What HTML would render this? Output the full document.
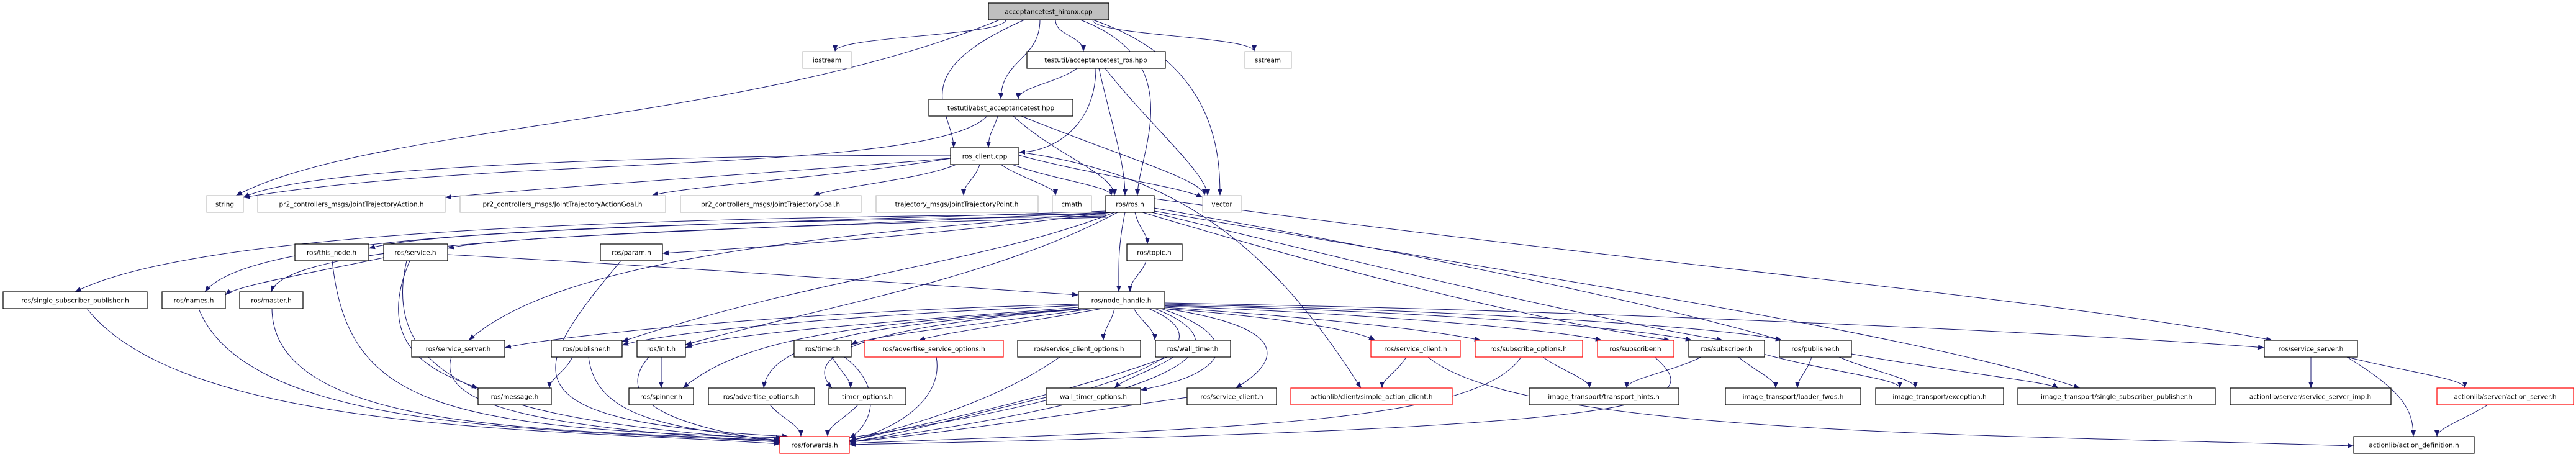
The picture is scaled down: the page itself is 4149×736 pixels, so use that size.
<!DOCTYPE html>
<html><head><meta charset="utf-8"><style>
html,body{margin:0;padding:0;background:#fff;width:4149px;height:736px;overflow:hidden}
svg{display:block}
text{font-family:"DejaVu Sans","Liberation Sans",sans-serif;font-size:10.5px;fill:#000;text-anchor:middle}
.n rect{fill:#fff;stroke:#000;stroke-width:1.2}
.g rect{fill:#fff;stroke:#bfbfbf;stroke-width:1.2}
.r rect{fill:#fff;stroke:#ff0000;stroke-width:1.2}
.e path{fill:none;stroke:#191970;stroke-width:1}
</style></head><body>
<svg width="4149" height="736" viewBox="0 0 4149 736" xmlns="http://www.w3.org/2000/svg">
<defs><marker id="a" markerWidth="10" markerHeight="8" refX="10" refY="4" orient="auto" markerUnits="userSpaceOnUse"><path d="M0,0 L10,4 L0,8 z" fill="#191970"/></marker></defs>
<g class="e">
<path d="M1620 32 C1620 58 1345 58 1345 83" marker-end="url(#a)"/>
<path d="M1700 32 C1700 58 1745 58 1745 83" marker-end="url(#a)"/>
<path d="M1760 32 C1760 58 2020 58 2020 83" marker-end="url(#a)"/>
<path d="M1675 32 C1675 96 1612 96 1612 160" marker-end="url(#a)"/>
<path d="M1650 32 C1450 120 1536 180 1536 238" marker-end="url(#a)"/>
<path d="M1610 32 C1200 200 600 200 380 315" marker-end="url(#a)"/>
<path d="M1740 32 C1920 100 1832 250 1832 315" marker-end="url(#a)"/>
<path d="M1760 32 C1960 100 1965 250 1965 315" marker-end="url(#a)"/>
<path d="M1735 110 C1700 135 1640 140 1640 160" marker-end="url(#a)"/>
<path d="M1765 110 C1765 200 1700 245 1641 245" marker-end="url(#a)"/>
<path d="M1770 110 C1790 200 1812 260 1812 315" marker-end="url(#a)"/>
<path d="M1780 110 C1850 200 1945 280 1945 315" marker-end="url(#a)"/>
<path d="M1607 187 C1600 210 1592 215 1592 238" marker-end="url(#a)"/>
<path d="M1590 187 C1500 280 800 250 392 318" marker-end="url(#a)"/>
<path d="M1632 187 C1700 250 1795 280 1795 315" marker-end="url(#a)"/>
<path d="M1645 187 C1800 250 1940 290 1940 315" marker-end="url(#a)"/>
<path d="M1531 250 C1100 250 500 265 392 318" marker-end="url(#a)"/>
<path d="M1531 255 C1300 275 900 300 717 318" marker-end="url(#a)"/>
<path d="M1531 255 C1350 285 1100 300 1050 315" marker-end="url(#a)"/>
<path d="M1540 265 C1480 290 1350 300 1310 315" marker-end="url(#a)"/>
<path d="M1578 265 C1570 290 1552 295 1552 315" marker-end="url(#a)"/>
<path d="M1612 265 C1650 290 1700 300 1700 315" marker-end="url(#a)"/>
<path d="M1630 265 C1700 290 1790 300 1790 315" marker-end="url(#a)"/>
<path d="M1641 250 C1750 280 1900 300 1937 318" marker-end="url(#a)"/>
<path d="M1641 245 C1900 280 2050 400 2192 625" marker-end="url(#a)"/>
<path d="M1781 340 C1200 360 700 370 594 400" marker-end="url(#a)"/>
<path d="M1781 342 C1200 370 800 380 721 400" marker-end="url(#a)"/>
<path d="M1790 342 C1500 380 1200 400 1067 408" marker-end="url(#a)"/>
<path d="M1828 342 C1835 370 1848 375 1848 393" marker-end="url(#a)"/>
<path d="M1812 342 C1800 400 1802 430 1802 470" marker-end="url(#a)"/>
<path d="M1781 345 C900 350 300 380 121 470" marker-end="url(#a)"/>
<path d="M1781 348 C900 360 400 380 330 470" marker-end="url(#a)"/>
<path d="M1781 350 C1000 370 460 390 437 470" marker-end="url(#a)"/>
<path d="M1790 342 C1300 380 900 420 755 548" marker-end="url(#a)"/>
<path d="M1795 342 C1600 420 1300 450 1002 550" marker-end="url(#a)"/>
<path d="M1800 342 C1600 450 1300 500 1104 555" marker-end="url(#a)"/>
<path d="M1840 342 C2200 450 2500 520 2690 548" marker-end="url(#a)"/>
<path d="M1855 342 C2300 450 2600 520 2775 548" marker-end="url(#a)"/>
<path d="M1859 335 C2400 430 2700 500 2870 548" marker-end="url(#a)"/>
<path d="M1859 320 C2600 420 3300 480 3660 548" marker-end="url(#a)"/>
<path d="M1859 340 C2500 450 3100 540 3350 625" marker-end="url(#a)"/>
<path d="M618 415 C500 440 380 460 363 475" marker-end="url(#a)"/>
<path d="M721 410 C1100 430 1500 460 1737 475" marker-end="url(#a)"/>
<path d="M660 420 C600 560 700 600 770 625" marker-end="url(#a)"/>
<path d="M655 420 C600 650 900 680 1256 710" marker-end="url(#a)"/>
<path d="M535 420 C560 650 700 690 1260 705" marker-end="url(#a)"/>
<path d="M1000 420 C850 600 800 680 1270 703" marker-end="url(#a)"/>
<path d="M1846 420 C1840 440 1820 450 1820 470" marker-end="url(#a)"/>
<path d="M140 497 C300 700 900 690 1256 715" marker-end="url(#a)"/>
<path d="M320 497 C400 700 900 690 1258 712" marker-end="url(#a)"/>
<path d="M438 497 C440 700 900 690 1258 710" marker-end="url(#a)"/>
<path d="M1737 490 C1300 500 900 540 813 560" marker-end="url(#a)"/>
<path d="M1737 492 C1300 510 1050 540 1002 556" marker-end="url(#a)"/>
<path d="M1737 495 C1400 520 1150 540 1104 560" marker-end="url(#a)"/>
<path d="M1745 497 C1400 520 1200 540 1100 625" marker-end="url(#a)"/>
<path d="M1750 497 C1450 520 1240 540 1230 625" marker-end="url(#a)"/>
<path d="M1755 497 C1450 520 1280 560 1340 625" marker-end="url(#a)"/>
<path d="M1760 497 C1600 520 1400 540 1371 555" marker-end="url(#a)"/>
<path d="M1775 497 C1650 520 1520 535 1480 548" marker-end="url(#a)"/>
<path d="M1795 497 C1790 520 1777 530 1777 548" marker-end="url(#a)"/>
<path d="M1826 497 C1840 520 1860 530 1860 548" marker-end="url(#a)"/>
<path d="M1870 497 C2000 540 1990 600 1837 628" marker-end="url(#a)"/>
<path d="M1876 497 C2100 530 2050 590 1990 625" marker-end="url(#a)"/>
<path d="M1860 497 C2020 560 1900 640 1368 712" marker-end="url(#a)"/>
<path d="M1850 497 C2000 560 1800 640 1368 705" marker-end="url(#a)"/>
<path d="M1876 497 C2050 510 2180 530 2215 548" marker-end="url(#a)"/>
<path d="M1876 495 C2100 510 2300 530 2385 548" marker-end="url(#a)"/>
<path d="M1876 493 C2200 505 2500 530 2580 548" marker-end="url(#a)"/>
<path d="M1876 492 C2300 500 2650 530 2725 548" marker-end="url(#a)"/>
<path d="M1876 490 C2400 500 2800 530 2870 548" marker-end="url(#a)"/>
<path d="M1876 488 C2600 500 3400 540 3647 560" marker-end="url(#a)"/>
<path d="M727 575 C700 660 900 690 1258 712" marker-end="url(#a)"/>
<path d="M922 575 C910 600 885 610 885 625" marker-end="url(#a)"/>
<path d="M948 575 C960 680 1100 690 1260 710" marker-end="url(#a)"/>
<path d="M1065 575 L1065 625" marker-end="url(#a)"/>
<path d="M1045 575 C980 650 1100 690 1262 712" marker-end="url(#a)"/>
<path d="M1340 575 C1355 600 1370 610 1370 625" marker-end="url(#a)"/>
<path d="M1360 575 C1420 620 1410 680 1368 706" marker-end="url(#a)"/>
<path d="M1508 575 C1520 640 1450 690 1368 710" marker-end="url(#a)"/>
<path d="M1707 575 C1600 650 1450 690 1368 710" marker-end="url(#a)"/>
<path d="M1890 575 C1850 600 1810 610 1795 625" marker-end="url(#a)"/>
<path d="M1880 575 C1700 640 1500 680 1368 710" marker-end="url(#a)"/>
<path d="M1240 652 C1260 675 1290 685 1290 703" marker-end="url(#a)"/>
<path d="M1382 652 C1360 675 1333 685 1333 703" marker-end="url(#a)"/>
<path d="M1685 640 C1550 670 1450 700 1368 712" marker-end="url(#a)"/>
<path d="M1912 640 C1700 670 1500 700 1368 712" marker-end="url(#a)"/>
<path d="M2265 575 C2250 600 2226 610 2226 625" marker-end="url(#a)"/>
<path d="M2300 575 C2450 700 3200 700 3791 718" marker-end="url(#a)"/>
<path d="M2485 575 C2520 600 2560 610 2560 625" marker-end="url(#a)"/>
<path d="M2450 575 C2380 680 2000 690 1368 714" marker-end="url(#a)"/>
<path d="M2665 575 C2750 650 2700 690 1368 716" marker-end="url(#a)"/>
<path d="M2740 575 C2690 600 2620 610 2620 625" marker-end="url(#a)"/>
<path d="M2800 575 C2830 600 2860 610 2860 625" marker-end="url(#a)"/>
<path d="M2840 570 C2950 600 3060 610 3060 625" marker-end="url(#a)"/>
<path d="M2918 575 C2910 600 2895 610 2895 625" marker-end="url(#a)"/>
<path d="M2962 575 C3020 600 3085 610 3085 625" marker-end="url(#a)"/>
<path d="M2982 570 C3150 600 3300 615 3315 625" marker-end="url(#a)"/>
<path d="M3722 575 L3722 625" marker-end="url(#a)"/>
<path d="M3780 575 C3880 600 3970 610 3970 625" marker-end="url(#a)"/>
<path d="M3780 575 C3870 630 3887 660 3887 703" marker-end="url(#a)"/>
<path d="M4007 652 C3970 675 3925 690 3925 703" marker-end="url(#a)"/>
</g>
<rect x="1592" y="5" width="194" height="27" fill="#bfbfbf" stroke="#000" stroke-width="1.2"/><text x="1689" y="22.5">acceptancetest_hironx.cpp</text>
<g class="g"><rect x="1293" y="83" width="78" height="27"/><text x="1332" y="100.5">iostream</text></g>
<g class="n"><rect x="1654" y="83" width="223" height="27"/><text x="1765" y="100.5">testutil/acceptancetest_ros.hpp</text></g>
<g class="g"><rect x="2005" y="83" width="75" height="27"/><text x="2042" y="100.5">sstream</text></g>
<g class="n"><rect x="1496" y="160" width="232" height="27"/><text x="1612" y="177.5">testutil/abst_acceptancetest.hpp</text></g>
<g class="n"><rect x="1531" y="238" width="110" height="27"/><text x="1586" y="255.5">ros_client.cpp</text></g>
<g class="g"><rect x="333" y="315" width="59" height="27"/><text x="362" y="332.5">string</text></g>
<g class="g"><rect x="415" y="315" width="302" height="27"/><text x="566" y="332.5">pr2_controllers_msgs/JointTrajectoryAction.h</text></g>
<g class="g"><rect x="741" y="315" width="331" height="27"/><text x="906" y="332.5">pr2_controllers_msgs/JointTrajectoryActionGoal.h</text></g>
<g class="g"><rect x="1096" y="315" width="291" height="27"/><text x="1241" y="332.5">pr2_controllers_msgs/JointTrajectoryGoal.h</text></g>
<g class="g"><rect x="1411" y="315" width="261" height="27"/><text x="1541" y="332.5">trajectory_msgs/JointTrajectoryPoint.h</text></g>
<g class="g"><rect x="1695" y="315" width="63" height="27"/><text x="1726" y="332.5">cmath</text></g>
<g class="n"><rect x="1781" y="315" width="78" height="27"/><text x="1820" y="332.5">ros/ros.h</text></g>
<g class="g"><rect x="1937" y="315" width="62" height="27"/><text x="1968" y="332.5">vector</text></g>
<g class="n"><rect x="475" y="393" width="119" height="27"/><text x="534" y="410.5">ros/this_node.h</text></g>
<g class="n"><rect x="618" y="393" width="103" height="27"/><text x="669" y="410.5">ros/service.h</text></g>
<g class="n"><rect x="967" y="393" width="100" height="27"/><text x="1017" y="410.5">ros/param.h</text></g>
<g class="n"><rect x="1815" y="393" width="89" height="27"/><text x="1859" y="410.5">ros/topic.h</text></g>
<g class="n"><rect x="5" y="470" width="232" height="27"/><text x="121" y="487.5">ros/single_subscriber_publisher.h</text></g>
<g class="n"><rect x="261" y="470" width="102" height="27"/><text x="312" y="487.5">ros/names.h</text></g>
<g class="n"><rect x="386" y="470" width="102" height="27"/><text x="437" y="487.5">ros/master.h</text></g>
<g class="n"><rect x="1737" y="470" width="139" height="27"/><text x="1806" y="487.5">ros/node_handle.h</text></g>
<g class="n"><rect x="663" y="548" width="150" height="27"/><text x="738" y="565.5">ros/service_server.h</text></g>
<g class="n"><rect x="888" y="548" width="114" height="27"/><text x="945" y="565.5">ros/publisher.h</text></g>
<g class="n"><rect x="1026" y="548" width="78" height="27"/><text x="1065" y="565.5">ros/init.h</text></g>
<g class="n"><rect x="1279" y="548" width="92" height="27"/><text x="1325" y="565.5">ros/timer.h</text></g>
<g class="r"><rect x="1393" y="548" width="223" height="27"/><text x="1504" y="565.5">ros/advertise_service_options.h</text></g>
<g class="n"><rect x="1639" y="548" width="198" height="27"/><text x="1738" y="565.5">ros/service_client_options.h</text></g>
<g class="n"><rect x="1861" y="548" width="121" height="27"/><text x="1921" y="565.5">ros/wall_timer.h</text></g>
<g class="r"><rect x="2208" y="548" width="144" height="27"/><text x="2280" y="565.5">ros/service_client.h</text></g>
<g class="r"><rect x="2376" y="548" width="173" height="27"/><text x="2462" y="565.5">ros/subscribe_options.h</text></g>
<g class="r"><rect x="2573" y="548" width="123" height="27"/><text x="2634" y="565.5">ros/subscriber.h</text></g>
<g class="n"><rect x="2720" y="548" width="122" height="27"/><text x="2781" y="565.5">ros/subscriber.h</text></g>
<g class="n"><rect x="2866" y="548" width="116" height="27"/><text x="2924" y="565.5">ros/publisher.h</text></g>
<g class="n"><rect x="3647" y="548" width="150" height="27"/><text x="3722" y="565.5">ros/service_server.h</text></g>
<g class="n"><rect x="770" y="625" width="118" height="27"/><text x="829" y="642.5">ros/message.h</text></g>
<g class="n"><rect x="1013" y="625" width="104" height="27"/><text x="1065" y="642.5">ros/spinner.h</text></g>
<g class="n"><rect x="1141" y="625" width="171" height="27"/><text x="1226" y="642.5">ros/advertise_options.h</text></g>
<g class="n"><rect x="1335" y="625" width="124" height="27"/><text x="1397" y="642.5">timer_options.h</text></g>
<g class="n"><rect x="1685" y="625" width="152" height="27"/><text x="1761" y="642.5">wall_timer_options.h</text></g>
<g class="n"><rect x="1912" y="625" width="144" height="27"/><text x="1984" y="642.5">ros/service_client.h</text></g>
<g class="r"><rect x="2079" y="625" width="260" height="27"/><text x="2209" y="642.5">actionlib/client/simple_action_client.h</text></g>
<g class="n"><rect x="2463" y="625" width="241" height="27"/><text x="2583" y="642.5">image_transport/transport_hints.h</text></g>
<g class="n"><rect x="2779" y="625" width="218" height="27"/><text x="2888" y="642.5">image_transport/loader_fwds.h</text></g>
<g class="n"><rect x="3021" y="625" width="206" height="27"/><text x="3124" y="642.5">image_transport/exception.h</text></g>
<g class="n"><rect x="3250" y="625" width="318" height="27"/><text x="3409" y="642.5">image_transport/single_subscriber_publisher.h</text></g>
<g class="n"><rect x="3592" y="625" width="259" height="27"/><text x="3721" y="642.5">actionlib/server/service_server_imp.h</text></g>
<g class="r"><rect x="3925" y="625" width="220" height="27"/><text x="4035" y="642.5">actionlib/server/action_server.h</text></g>
<g class="r"><rect x="1256" y="703" width="112" height="27"/><text x="1312" y="720.5">ros/forwards.h</text></g>
<g class="n"><rect x="3791" y="703" width="194" height="27"/><text x="3888" y="720.5">actionlib/action_definition.h</text></g>
</svg>
</body></html>
